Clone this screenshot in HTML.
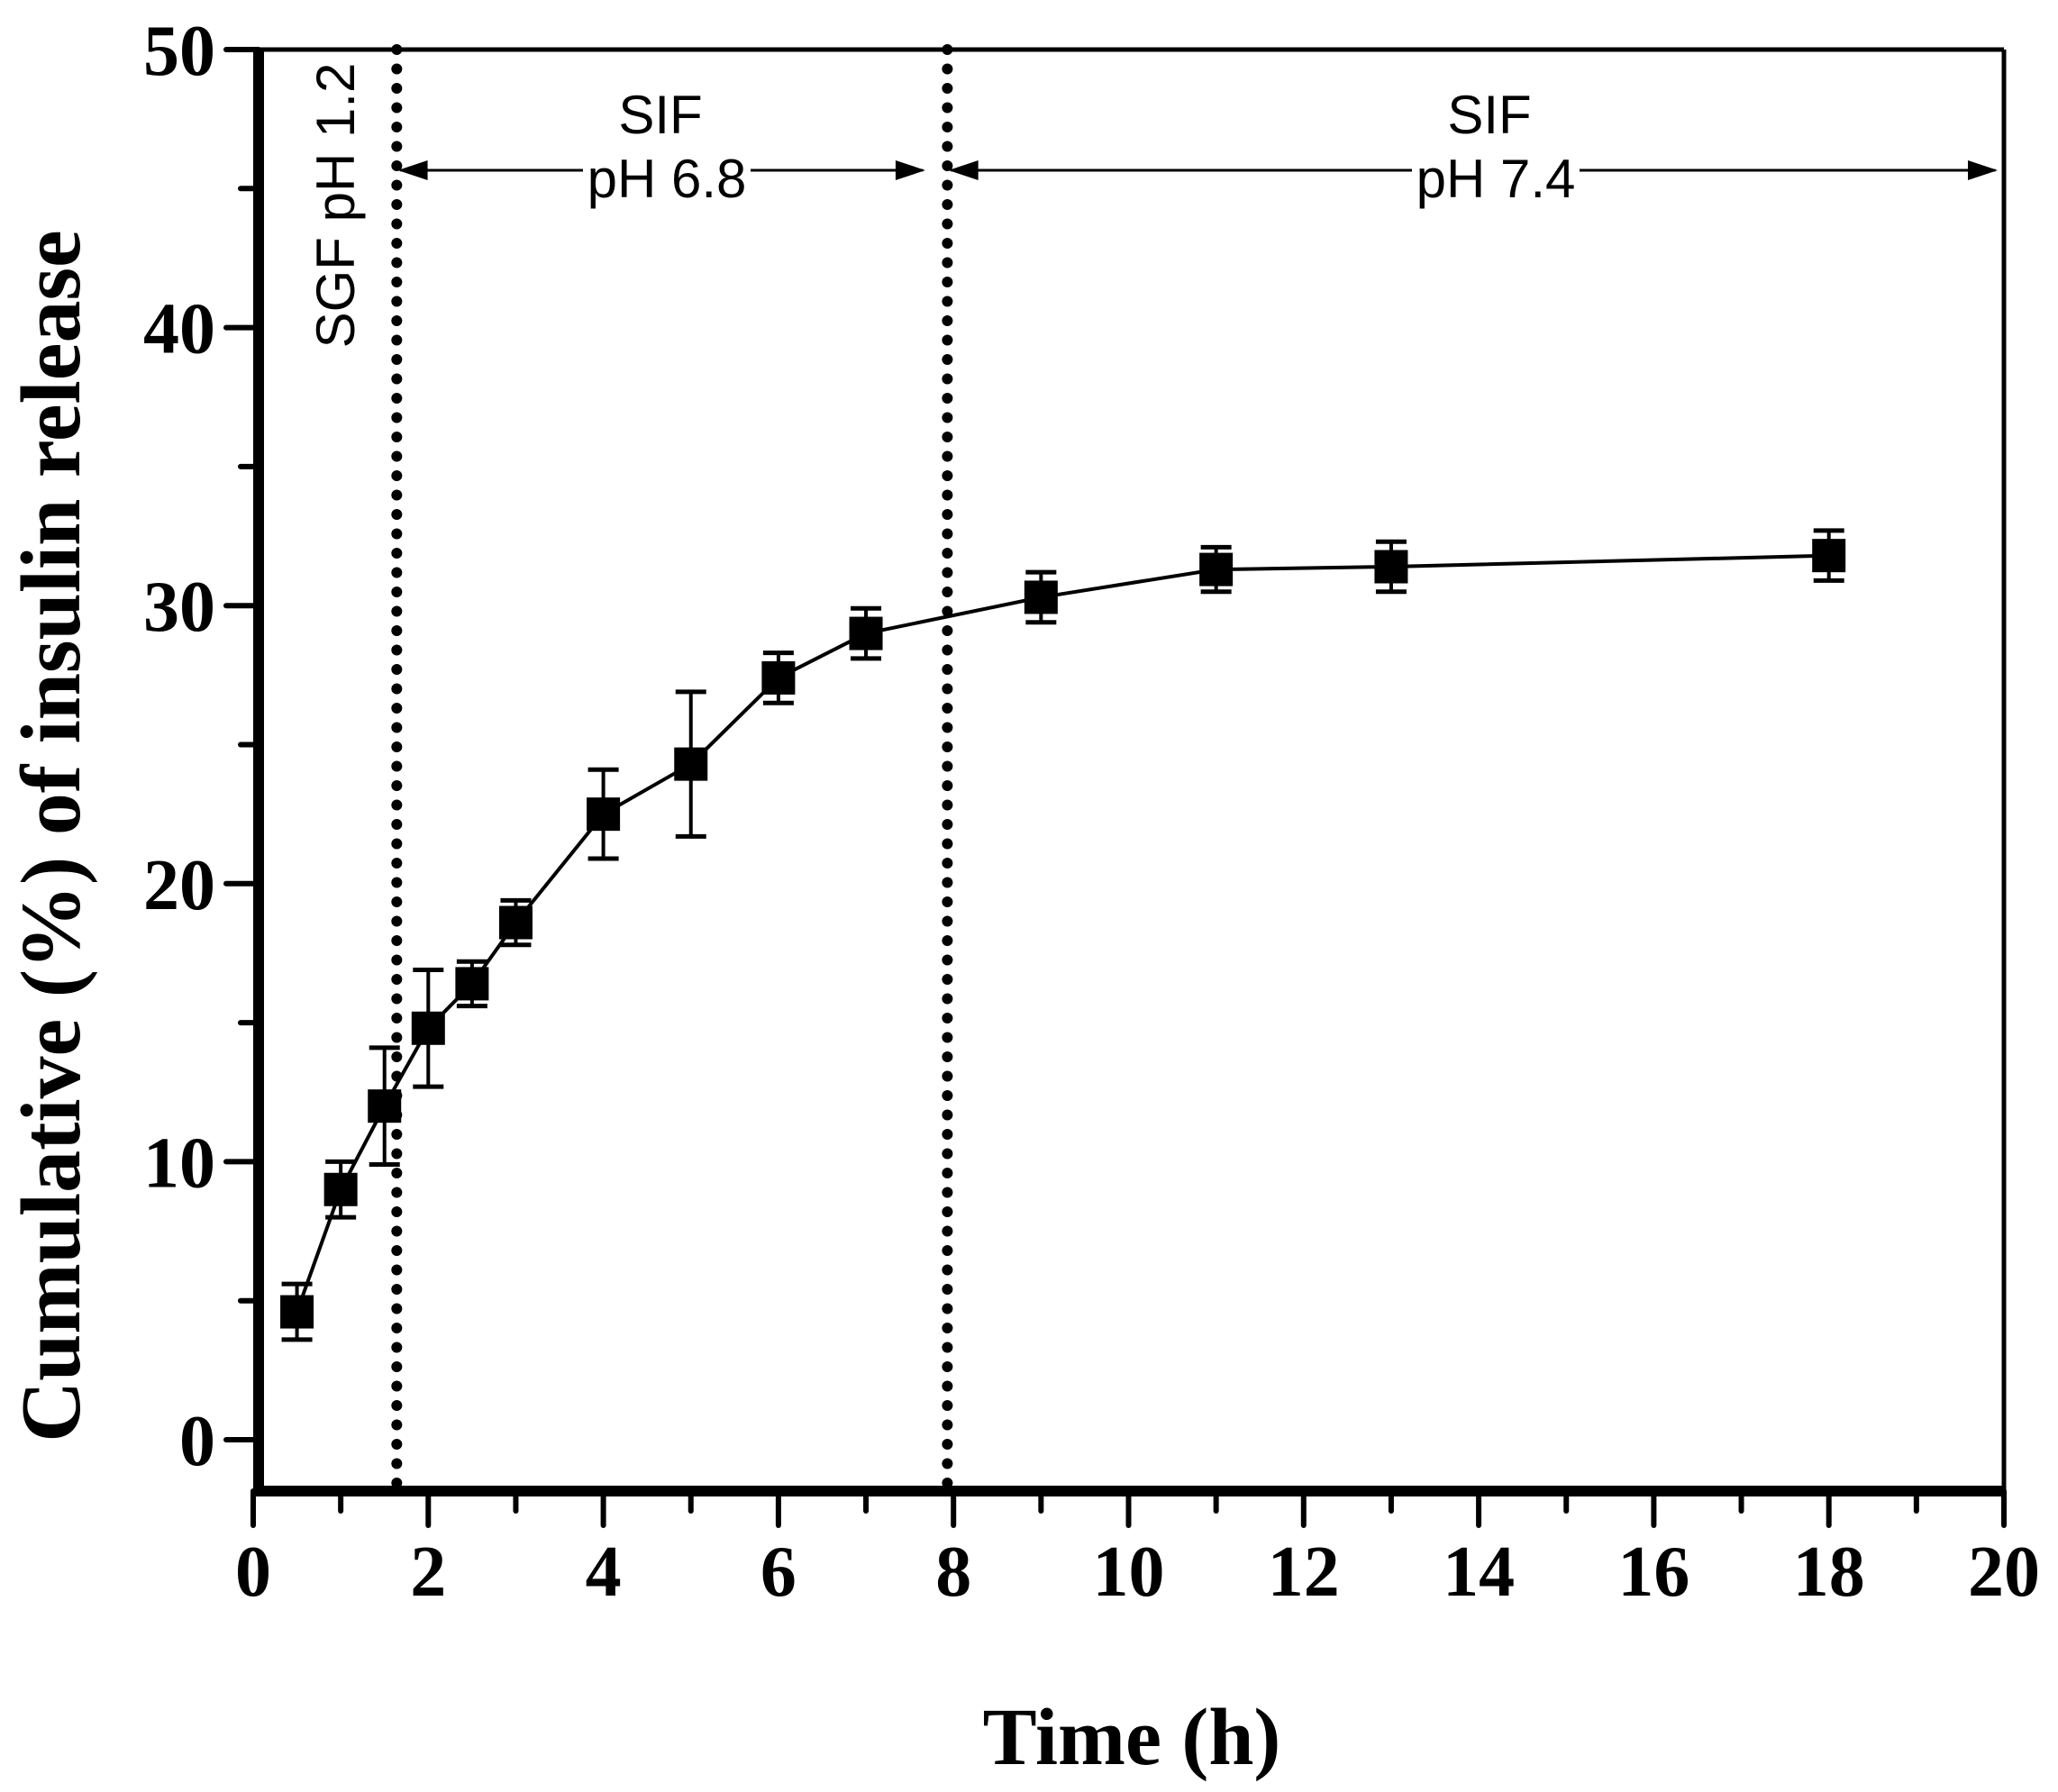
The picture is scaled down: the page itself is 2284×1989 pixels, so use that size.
<!DOCTYPE html>
<html><head><meta charset="utf-8"><style>
html,body{margin:0;padding:0;background:#fff;}
svg{display:block;}
.tk{font-family:"Liberation Serif",serif;font-weight:bold;font-size:80px;}
.an{font-family:"Liberation Sans",sans-serif;font-size:60px;}
</style></head><body>
<svg width="2284" height="1989" viewBox="0 0 2284 1989" id="chart">
</svg>
<script>
const timesH = [0.5,1,1.5,2,2.5,3,4,5,6,7,9,11,13,18];
const releasePct = [4.6,9.0,12.0,14.8,16.4,18.6,22.5,24.3,27.4,29.0,30.3,31.3,31.4,31.8];
const errPct = [1.0,1.0,2.1,2.1,0.8,0.8,1.6,2.6,0.9,0.9,0.9,0.8,0.9,0.9];
const xTicks = [0,2,4,6,8,10,12,14,16,18,20];
const yTicks = [0,10,20,30,40,50];
const phaseBounds = [1.64,7.93];

const X0=281, X1=2224, Y0=1598, Y1=55;
const sx = v => X0 + (X1-X0)*v/20;
const sy = v => Y0 - (Y0-Y1)*v/50;
const svgEl = document.getElementById('chart');
const NS='http://www.w3.org/2000/svg';
function mk(tag, attrs, parent){const e=document.createElementNS(NS,tag);for(const k in attrs)e.setAttribute(k,attrs[k]);(parent||svgEl).appendChild(e);return e;}

const FL=287, FR=2224, FT=55, FB=1655;
let e;
e=mk('line',{x1:FL,y1:FT,x2:FR,y2:FT,stroke:'#000','stroke-width':5});


e=mk('line',{x1:FR,y1:FT,x2:FR,y2:FB,stroke:'#000','stroke-width':5});


e=mk('line',{x1:FL,y1:FT-2,x2:FL,y2:FB+6,stroke:'#000','stroke-width':12});


e=mk('line',{x1:FL-6,y1:FB,x2:FR+2,y2:FB,stroke:'#000','stroke-width':12});



yTicks.forEach((v,i)=>{
  const y=sy(v);
  const t=mk('line',{x1:FL-36,y1:y,x2:FL,y2:y,stroke:'#000','stroke-width':6,'stroke-linecap':'round'});
  
  
  if(i<yTicks.length-1){const m=mk('line',{x1:FL-20,y1:sy(v+5),x2:FL,y2:sy(v+5),stroke:'#000','stroke-width':6,'stroke-linecap':'round'});
  
  }
  const l=mk('text',{x:FL-48,y:y+28,'text-anchor':'end',class:'tk'});
  l.textContent=v;
  
  
});
xTicks.forEach((v,i)=>{
  const x=sx(v);
  const t=mk('line',{x1:x,y1:FB,x2:x,y2:FB+38,stroke:'#000','stroke-width':6,'stroke-linecap':'round'});
  
  
  if(i<xTicks.length-1){const m=mk('line',{x1:sx(v+1),y1:FB,x2:sx(v+1),y2:FB+22,stroke:'#000','stroke-width':6,'stroke-linecap':'round'});
  
  }
  const l=mk('text',{x:x,y:FB+116,'text-anchor':'middle',class:'tk'});
  l.textContent=v;
  
  
});

phaseBounds.forEach(b=>{
  const d=mk('line',{x1:sx(b),y1:FT,x2:sx(b),y2:FB-8,stroke:'#000','stroke-width':12,'stroke-dasharray':'0 21.5','stroke-linecap':'round'});
  
  
});

const defs=mk('defs',{});
const mkr=mk('marker',{id:'ah',viewBox:'0 0 12 8',markerWidth:34,markerHeight:22,refX:11,refY:4,orient:'auto-start-reverse',markerUnits:'userSpaceOnUse'},defs);
mk('path',{d:'M0,0 L12,4 L0,8 z',fill:'#000'},mkr);
const arrowY=189;
[[phaseBounds[0],7.65],[phaseBounds[1],19.9]].forEach(a=>{
  const l=mk('line',{x1:sx(a[0])+4,y1:arrowY,x2:sx(a[1]),y2:arrowY,stroke:'#000','stroke-width':3,'marker-start':'url(#ah)','marker-end':'url(#ah)'});
  
  
});
function txt(s,x,y,name,extra){const t=mk('text',Object.assign({x:x,y:y,'text-anchor':'middle',class:'an'},extra||{}));t.textContent=s;return t;}
function bgTxt(s,x,y,name){const w=s.length*31;const r=mk('rect',{x:x-w/2,y:y-46,width:w,height:56,fill:'#fff'});txt(s,x,y,name);}
txt('SIF',733,148,'phase-2-label');
bgTxt('pH 6.8',740,219,'phase-2-ph-label');
txt('SIF',1653,148,'phase-3-label');
bgTxt('pH 7.4',1660,219,'phase-3-ph-label');
txt('SGF pH 1.2',0,0,'phase-1-label',{transform:'translate(393,228) rotate(-90)'});

let d='';
timesH.forEach((t,i)=>{d+=(i?'L':'M')+sx(t)+','+sy(releasePct[i]);});
const pl=mk('path',{d:d,fill:'none',stroke:'#000','stroke-width':4});


timesH.forEach((t,i)=>{
  const x=sx(t), yh=sy(releasePct[i]+errPct[i]), yl=sy(releasePct[i]-errPct[i]);
  const g=mk('g',{});
  
  
  mk('line',{x1:x,y1:yh,x2:x,y2:yl,stroke:'#000','stroke-width':4},g);
  mk('line',{x1:x-17,y1:yh,x2:x+17,y2:yh,stroke:'#000','stroke-width':5},g);
  mk('line',{x1:x-17,y1:yl,x2:x+17,y2:yl,stroke:'#000','stroke-width':5},g);
  const r=mk('rect',{x:x-18.5,y:sy(releasePct[i])-18.5,width:37,height:37,fill:'#000'});
  
  
});

const yt=mk('text',{transform:'translate(88,928) rotate(-90)','text-anchor':'middle',style:'font-family:"Liberation Serif",serif;font-weight:bold;font-size:94px'});
yt.textContent='Cumulative (%) of insulin release';


const xt=mk('text',{x:1256,y:1958,'text-anchor':'middle',style:'font-family:"Liberation Serif",serif;font-weight:bold;font-size:90px'});
xt.textContent='Time (h)';


</script>
</body></html>
